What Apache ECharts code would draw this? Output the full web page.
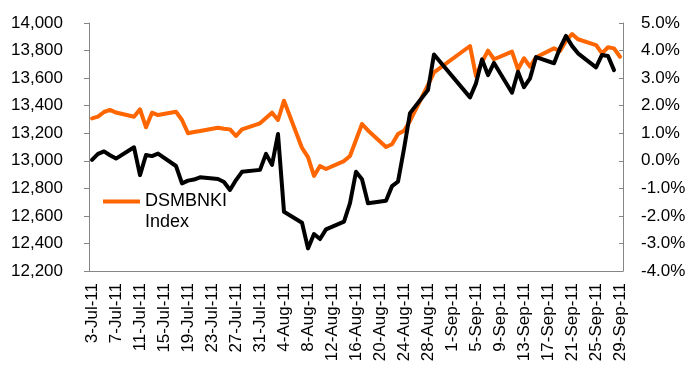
<!DOCTYPE html>
<html>
<head>
<meta charset="utf-8">
<script src="https://cdn.jsdelivr.net/npm/echarts@6/dist/echarts.min.js"></script>
<style>
  html, body { margin: 0; padding: 0; background: #fff; }
  #chart { width: 691px; height: 369px; }
</style>
</head>
<body>
<div id="chart"></div>
<script>
// Calendar days on the category axis (3-Jul-11 .. 29-Sep-11)
const days = [
  '3-Jul-11','4-Jul-11','5-Jul-11','6-Jul-11','7-Jul-11','8-Jul-11','9-Jul-11','10-Jul-11','11-Jul-11','12-Jul-11',
  '13-Jul-11','14-Jul-11','15-Jul-11','16-Jul-11','17-Jul-11','18-Jul-11','19-Jul-11','20-Jul-11','21-Jul-11','22-Jul-11',
  '23-Jul-11','24-Jul-11','25-Jul-11','26-Jul-11','27-Jul-11','28-Jul-11','29-Jul-11','30-Jul-11','31-Jul-11','1-Aug-11',
  '2-Aug-11','3-Aug-11','4-Aug-11','5-Aug-11','6-Aug-11','7-Aug-11','8-Aug-11','9-Aug-11','10-Aug-11','11-Aug-11',
  '12-Aug-11','13-Aug-11','14-Aug-11','15-Aug-11','16-Aug-11','17-Aug-11','18-Aug-11','19-Aug-11','20-Aug-11','21-Aug-11',
  '22-Aug-11','23-Aug-11','24-Aug-11','25-Aug-11','26-Aug-11','27-Aug-11','28-Aug-11','29-Aug-11','30-Aug-11','31-Aug-11',
  '1-Sep-11','2-Sep-11','3-Sep-11','4-Sep-11','5-Sep-11','6-Sep-11','7-Sep-11','8-Sep-11','9-Sep-11','10-Sep-11',
  '11-Sep-11','12-Sep-11','13-Sep-11','14-Sep-11','15-Sep-11','16-Sep-11','17-Sep-11','18-Sep-11','19-Sep-11','20-Sep-11',
  '21-Sep-11','22-Sep-11','23-Sep-11','24-Sep-11','25-Sep-11','26-Sep-11','27-Sep-11','28-Sep-11','29-Sep-11'
];

// DSMBNKI Index level (left axis); null = no trading that day
const indexLevel = [
  13308, 13320, 13354, 13369, 13350, null, null,
  13320, 13374, 13243, 13349, 13332, null, null,
  13356, 13296, 13200, 13209, 13216, null, null,
  13240, 13233, 13228, 13180, 13228, null, null,
  13272, 13310, 13349, 13296, 13436, null, null,
  13093, 13027, 12890, 12962, 12940, null, null,
  12998, 13035, 13151, 13267, 13220, null, null,
  13100, 13120, 13194, 13218, 13289, null, null,
  13550, 13641, null, null, null, null, null,
  13833, 13615, 13717, 13799, 13737, null, null,
  13792, 13664, 13744, 13683, 13751, null, null,
  13816, 13797, 13869, 13920, 13882, null, null,
  13840, 13780, 13824, 13816, 13755
];

// Relative performance in % (right axis)
const relPerf = [
  0.03, 0.25, 0.34, 0.20, 0.08, null, null,
  0.49, -0.52, 0.21, 0.17, 0.26, null, null,
  -0.19, -0.82, -0.72, -0.68, -0.60, null, null,
  -0.66, -0.77, -1.06, -0.70, -0.40, null, null,
  -0.33, 0.25, -0.15, 0.97, -1.85, null, null,
  -2.25, -3.18, -2.66, -2.84, -2.49, null, null,
  -2.21, -1.54, -0.40, -0.67, -1.54, null, null,
  -1.45, -0.92, -0.76, 0.43, 1.73, null, null,
  2.57, 3.86, null, null, null, null, null,
  2.30, 2.81, 3.68, 3.11, 3.55, null, null,
  2.47, 3.23, 2.67, 2.99, 3.76, null, null,
  3.54, 4.09, 4.53, 4.17, 3.90, null, null,
  3.39, 3.84, 3.80, 3.29, null
];

const FONT = "'Liberation Sans', Arial, sans-serif";
const AXIS_COLOR = '#868686';

const chart = echarts.init(document.getElementById('chart'), null, { renderer: 'canvas' });

chart.setOption({
  animation: false,
  backgroundColor: '#ffffff',
  textStyle: { fontFamily: FONT },
  grid: { left: 89, right: 68, top: 23, bottom: 98, containLabel: false },
  legend: {
    data: ['DSMBNKI Index'],
    left: 103,
    top: 170,
    padding: 0,
    icon: 'rect',
    itemWidth: 37,
    itemHeight: 4,
    // blank first line keeps the marker level with the first word
    formatter: () => '\nDSMBNKI\nIndex',
    textStyle: { fontFamily: FONT, fontSize: 18, lineHeight: 21, color: '#000' }
  },
  xAxis: {
    type: 'category',
    data: days,
    boundaryGap: true,
    axisLine: { onZero: false, lineStyle: { color: AXIS_COLOR, width: 1 } },
    axisTick: { interval: 3, length: 5, lineStyle: { color: AXIS_COLOR } },
    axisLabel: { interval: 3, rotate: 90, margin: 12, fontSize: 17, color: '#000', fontFamily: FONT },
    splitLine: { show: false }
  },
  yAxis: [
    {
      type: 'value',
      min: 12200, max: 14000, interval: 200,
      axisLine: { show: true, lineStyle: { color: AXIS_COLOR, width: 1 } },
      axisTick: { show: true, length: 5, lineStyle: { color: AXIS_COLOR } },
      axisLabel: {
        margin: 26, fontSize: 17, color: '#000', fontFamily: FONT,
        formatter: v => v.toLocaleString('en-US')
      },
      splitLine: { show: false }
    },
    {
      type: 'value',
      position: 'right',
      min: -4, max: 5, interval: 1,
      axisLine: { show: true, lineStyle: { color: AXIS_COLOR, width: 1 } },
      axisTick: { show: true, inside: true, length: 4, lineStyle: { color: AXIS_COLOR } },
      axisLabel: {
        margin: 18, fontSize: 17, color: '#000', fontFamily: FONT,
        formatter: v => v.toFixed(1) + '%'
      },
      splitLine: { show: false }
    }
  ],
  series: [
    {
      name: 'DSMBNKI Index',
      type: 'line',
      yAxisIndex: 0,
      data: indexLevel,
      connectNulls: true,
      showSymbol: false,
      symbol: 'none',
      color: '#FF6600',
      lineStyle: { color: '#FF6600', width: 4, join: 'round', cap: 'round' },
      z: 2
    },
    {
      name: 'Relative performance',
      type: 'line',
      yAxisIndex: 1,
      data: relPerf,
      connectNulls: true,
      showSymbol: false,
      symbol: 'none',
      color: '#000000',
      lineStyle: { color: '#000000', width: 4, join: 'round', cap: 'round' },
      z: 3
    }
  ]
});
</script>
</body>
</html>
